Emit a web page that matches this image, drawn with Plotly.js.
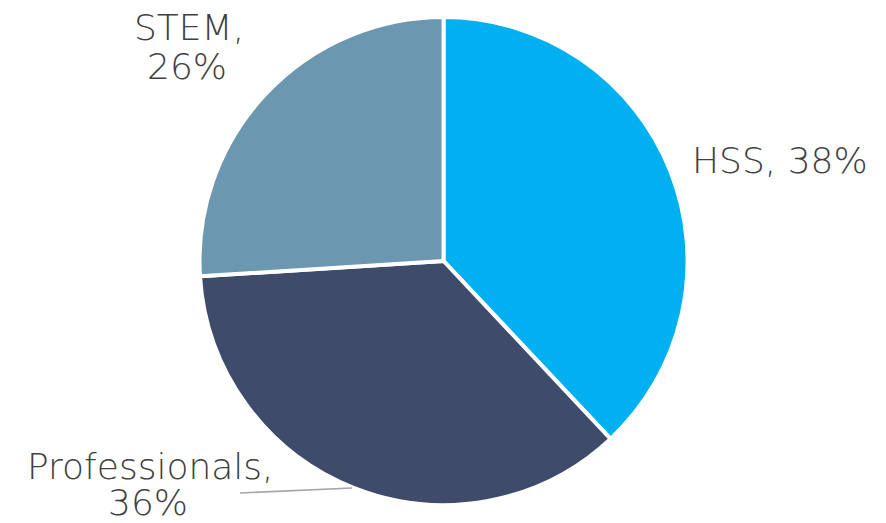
<!DOCTYPE html>
<html>
<head>
<meta charset="utf-8">
<script src="https://cdn.plot.ly/plotly-3.0.1.min.js"></script>
<style>html,body{margin:0;padding:0;background:#fff;}#chart{width:886px;height:523px;}</style>
</head>
<body>
<div id="chart"></div>
<script>
var categories = ["HSS", "Professionals", "STEM"];
var shares = [38, 36, 26];
var colors = ["#00B0F0", "#3F4B6B", "#6C97B0"];

var font = {family: "'DejaVu Sans', sans-serif", size: 36, color: "#404040", weight: 300};

var trace = {
  type: "pie",
  labels: categories,
  values: shares,
  sort: false,
  direction: "clockwise",
  rotation: 0,
  textinfo: "none",
  hoverinfo: "none",
  marker: {colors: colors, line: {color: "#FFFFFF", width: 4}},
  domain: {x: [0.2252, 0.7760], y: [0.0344, 0.9675]},
  showlegend: false
};

function ann(text, px, py) {
  return {text: text, x: px / 886, y: 1 - py / 523, xref: "paper", yref: "paper",
          showarrow: false, font: font, xanchor: "center", yanchor: "middle"};
}

var layout = {
  width: 886, height: 523,
  margin: {l: 0, r: 0, t: 0, b: 0},
  paper_bgcolor: "#FFFFFF",
  showlegend: false,
  annotations: [
    ann(categories[0] + ", " + shares[0] + "%", 780, 161),
    ann(categories[1] + ",", 150, 466),
    ann(shares[1] + "%", 148, 502),
    ann(categories[2] + ",", 189, 28),
    ann(shares[2] + "%", 187, 67)
  ],
  shapes: [
    {type: "line", xref: "paper", yref: "paper", x0: 240/886, y0: 1 - 493/523, x1: 352/886, y1: 1 - 488/523, line: {color: "#A6A6A6", width: 1.5}}
  ]
};

Plotly.newPlot("chart", [trace], layout, {displayModeBar: false, staticPlot: true});
</script>
</body>
</html>
